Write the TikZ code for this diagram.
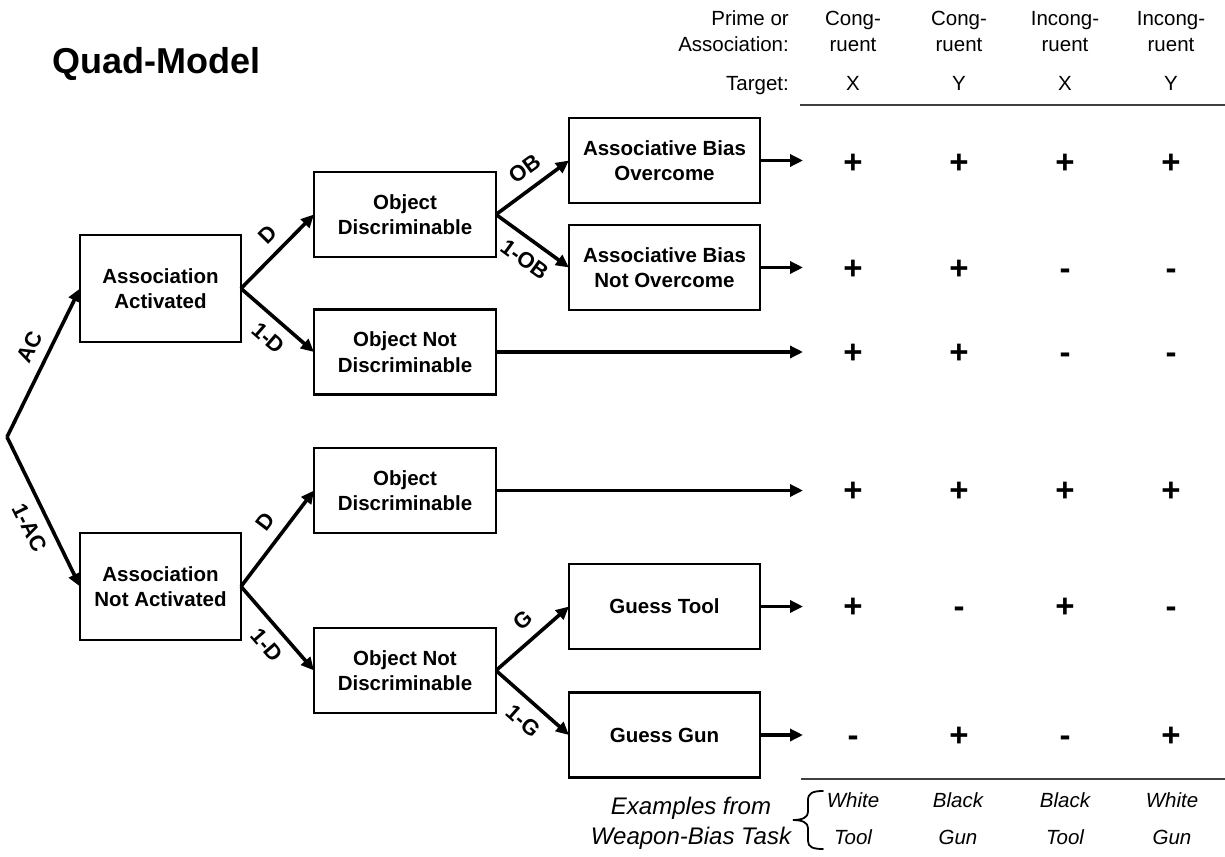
\documentclass[tikz,border=0pt]{standalone}
\usepackage{fontspec}
\setmainfont{Liberation Sans}
\usetikzlibrary{arrows.meta}

% type sizes (1pt in the picture = one unit of the grid)
\newcommand\qmboxfont{\bfseries\fontsize{20.5}{25.5}\selectfont}
\newcommand\qmlabfont{\bfseries\fontsize{22}{24}\selectfont}
\newcommand\qmhdrfont{\fontsize{20.5}{26}\selectfont}
\newcommand\qmsignfont{\bfseries\fontsize{33}{36}\selectfont}
\newcommand\qmexfont{\itshape\fontsize{20.5}{24}\selectfont}
\newcommand\qmexbigfont{\itshape\fontsize{24}{30}\selectfont}

\begin{document}
\begin{tikzpicture}[x=1pt,y=-1pt,
  box/.style={draw, line width=2.5pt, align=center, font=\qmboxfont,
    inner sep=0pt, outer sep=0pt},
  abox/.style={box, minimum width=161pt, minimum height=107pt},
  obox/.style={box, minimum width=182pt, minimum height=85pt},
  rbox/.style={box, minimum width=191pt, minimum height=85pt},
  arr/.style={line width=3.6pt, -{Triangle[length=13pt,width=12pt]}},
  lab/.style={font=\qmlabfont, inner xsep=1pt, inner ysep=10pt, sloped, pos=0.55},
  hdr/.style={font=\qmhdrfont, inner sep=0pt, align=center},
  sign/.style={font=\qmsignfont, inner sep=0pt, anchor=base},
  exm/.style={font=\qmexfont, inner sep=0pt},
  rule/.style={line width=1.8pt, draw=black!75}
]
\useasboundingbox (0,0) rectangle (1225,856);

% title
\node[font=\bfseries\fontsize{36}{40}\selectfont, anchor=base west, inner sep=0pt]
  (title) at (52,74) {Quad-Model};

% tree boxes
\node[abox] (aa)   at (160.5,288.5) {Association\\Activated};
\node[abox] (ana)  at (160.5,586.5) {Association\\Not Activated};
\node[obox] (od1)  at (405,214.5)   {Object\\Discriminable};
\node[obox] (ond1) at (405,352)     {Object Not\\Discriminable};
\node[obox] (od2)  at (405,490.5)   {Object\\Discriminable};
\node[obox] (ond2) at (405,670.5)   {Object Not\\Discriminable};
\node[rbox] (abo)  at (664.5,160.5) {Associative Bias\\Overcome};
\node[rbox] (abno) at (664.5,267.5) {Associative Bias\\Not Overcome};
\node[rbox] (gt)   at (664.5,606.5) {Guess Tool};
\node[rbox] (gg)   at (664.5,735)   {Guess Gun};

% root and outcome end points
\coordinate (root) at (7,437);
\coordinate (r1) at (803,160.5);
\coordinate (r2) at (803,267.5);
\coordinate (r3) at (803,352);
\coordinate (r4) at (803,490.5);
\coordinate (r5) at (803,606.5);
\coordinate (r6) at (803,735);

% branches
\draw[arr] (root) -- node[lab, above] {AC} (aa.west);
\draw[arr] (root) -- node[lab, below] {1-AC} (ana.west);
\draw[arr] (aa.east) -- node[lab, above] {D} (od1.west);
\draw[arr] (aa.east) -- node[lab, below] {1-D} (ond1.west);
\draw[arr] (od1.east) -- node[lab, above] {OB} (abo.west);
\draw[arr] (od1.east) -- node[lab, below] {1-OB} (abno.west);
\draw[arr] (ana.east) -- node[lab, above] {D} (od2.west);
\draw[arr] (ana.east) -- node[lab, below] {1-D} (ond2.west);
\draw[arr] (ond2.east) -- node[lab, above] {G} (gt.west);
\draw[arr] (ond2.east) -- node[lab, below] {1-G} (gg.west);

% outcome arrows
\draw[arr] (abo)  -- (r1);
\draw[arr] (abno) -- (r2);
\draw[arr] (ond1) -- (r3);
\draw[arr] (od2)  -- (r4);
\draw[arr] (gt)   -- (r5);
\draw[arr] (gg)   -- (r6);

% table header
\node[hdr, anchor=base east] (hp) at (789,25.5) {Prime or};
\node[hdr, anchor=base east] (ha) at (789,51.5) {Association:};
\node[hdr, anchor=base east] (ht) at (789,90.5) {Target:};
\foreach \x/\a/\b/\t [count=\i] in {853/Cong-/ruent/X, 959/Cong-/ruent/Y,
    1065/Incong-/ruent/X, 1171/Incong-/ruent/Y} {
  \node[hdr, anchor=base] (ca\i) at (\x,25.5) {\a};
  \node[hdr, anchor=base] (cb\i) at (\x,51.5) {\b};
  \node[hdr, anchor=base] (ct\i) at (\x,90.5) {\t};
}
\draw[rule] (800,105) -- (1225,105);

% outcome signs
\foreach \y/\p/\q/\r/\s [count=\j] in {162/+/+/+/+, 268/+/+/-/-, 352/+/+/-/-,
    490/+/+/+/+, 606/+/-/+/-, 735/-/+/-/+} {
  \node[sign] (s\j a) at (853,\y+11)  {\p};
  \node[sign] (s\j b) at (959,\y+11)  {\q};
  \node[sign] (s\j c) at (1065,\y+11) {\r};
  \node[sign] (s\j d) at (1171,\y+11) {\s};
}

% examples
\draw[rule] (801,779) -- (1225,779);
\node[font=\qmexbigfont, align=center, inner sep=0pt] (ex) at (691,823)
  {Examples from\\Weapon-Bias Task};
\draw[line width=1.8pt, line cap=round]
  (823,791) .. controls (813,791) and (808,793) .. (808,800)
  -- (808,812) .. controls (808,817) and (803,820) .. (793,820)
  .. controls (803,820) and (808,823) .. (808,828)
  -- (808,841) .. controls (808,847) and (813,849) .. (823,849);
\foreach \x/\a/\b [count=\k] in {853/White/Tool, 958/Black/Gun,
    1065/Black/Tool, 1172/White/Gun} {
  \node[exm] (ew\k) at (\x,800) {\a};
  \node[exm] (eo\k) at (\x,837) {\b};
}
\end{tikzpicture}
\end{document}
